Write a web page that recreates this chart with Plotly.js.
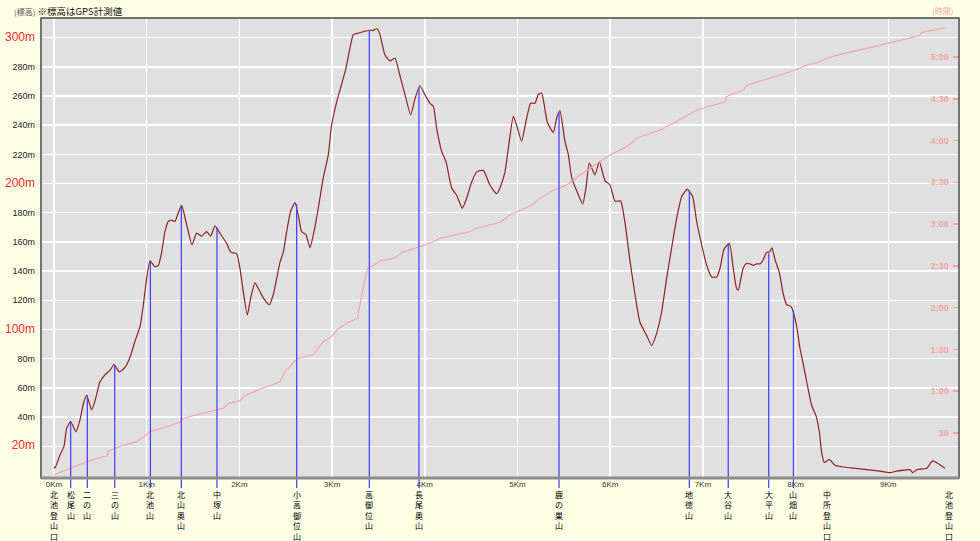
<!DOCTYPE html>
<html>
<head>
<meta charset="utf-8">
<script src="https://cdn.plot.ly/plotly-3.0.1.min.js"></script>
<style>html,body{margin:0;padding:0;background:#FFFFE5;}#chart{width:980px;height:541px;}</style>
</head>
<body>
<div id="chart"></div>
<script>
// ---- Elevation profile (distance km, elevation m) ----
const distKm = [0.00,0.01,0.065,0.108,0.136,0.18,0.237,0.28,0.316,0.353,0.406,0.442,0.496,0.55,0.604,0.647,0.705,0.766,0.82,0.874,0.928,0.964,1.0,1.036,1.09,1.126,1.162,1.197,1.233,1.269,1.305,1.341,1.377,1.431,1.489,1.539,1.593,1.647,1.69,1.737,1.79,1.863,1.906,1.97,2.006,2.042,2.086,2.12,2.168,2.222,2.265,2.323,2.366,2.438,2.474,2.51,2.553,2.6,2.636,2.672,2.718,2.762,2.805,2.851,2.905,2.96,2.995,3.05,3.103,3.15,3.193,3.229,3.283,3.337,3.402,3.44,3.485,3.517,3.571,3.625,3.678,3.732,3.786,3.848,3.894,3.948,4.0,4.056,4.092,4.128,4.182,4.229,4.29,4.344,4.405,4.452,4.506,4.56,4.631,4.703,4.775,4.811,4.865,4.901,4.955,4.99,5.045,5.09,5.142,5.188,5.225,5.26,5.286,5.322,5.387,5.423,5.458,5.512,5.548,5.585,5.645,5.703,5.739,5.775,5.836,5.883,5.944,5.998,6.052,6.113,6.16,6.214,6.268,6.321,6.393,6.447,6.494,6.555,6.609,6.663,6.717,6.771,6.832,6.89,6.933,6.987,7.041,7.095,7.149,7.185,7.228,7.285,7.328,7.364,7.382,7.43,7.465,7.508,7.544,7.58,7.616,7.652,7.688,7.717,7.745,7.778,7.825,7.868,7.904,7.947,7.976,8.012,8.048,8.084,8.127,8.174,8.22,8.256,8.281,8.31,8.364,8.425,8.497,8.623,8.767,8.911,9.018,9.09,9.234,9.263,9.306,9.414,9.479,9.54,9.612];
const elevM = [6,5,14,20,32,37,30,38,49,55,45,51,64,69,72,76,71,74,81,92,102,117,135,147,143,144,153,167,174,175,174,180,185,172,158,166,164,167,164,171,166,159,153,152,142,126,110,121,132,126,121,117,124,146,153,167,181,187,178,167,165,156,167,183,204,220,240,256,268,279,293,302,303,304,305,305,306,302,288,284,286,274,261,247,258,267,261,255,253,238,222,215,197,192,183,190,201,208,209,199,193,197,208,224,246,240,229,242,255,255,261,262,255,242,235,245,250,229,220,204,194,186,197,214,206,215,202,199,188,188,173,147,124,105,96,89,96,112,135,156,176,191,196,191,174,158,144,136,136,142,155,159,142,128,127,141,145,145,144,145,145,148,153,153,156,148,139,124,117,116,112,102,87,76,62,48,41,30,16,9,11,7,6,5,4,3,2,3,4,2,4,5,10,8,5];

// ---- Elapsed time (distance km, minutes) ----
const timeKm = [0,0.175,0.353,0.532,0.575,0.586,0.73,0.892,1.036,1.215,1.359,1.395,1.575,1.827,1.88,2.0,2.06,2.22,2.33,2.438,2.492,2.546,2.618,2.8,2.905,2.995,3.05,3.158,3.273,3.32,3.381,3.445,3.517,3.661,3.769,3.948,4.092,4.164,4.488,4.56,4.811,4.919,5.027,5.153,5.351,5.531,5.675,5.891,5.998,6.178,6.286,6.538,6.681,6.933,7.185,7.238,7.256,7.292,7.436,7.472,7.544,7.688,7.868,8.0,8.12,8.228,8.335,8.479,8.767,9.0,9.198,9.335,9.36,9.45,9.612];
const timeMin = [0,4.7,9.4,13,13.5,17,20.9,23.8,30.9,34.5,37.7,40.6,43.4,47.7,51.3,53,56.8,61.6,64,66.9,74,77.6,83.1,86.5,95.6,99.2,104,108.8,112.4,129.1,148.3,150.2,153.5,155.4,160.2,163.8,167.4,169.8,174.6,177,181.3,186.5,190.1,193.7,203.3,208.1,215.3,225.3,229.6,235.6,241.6,247.6,252.4,261.9,266.8,267.9,271.5,272.7,276.3,279.4,281.1,284.2,288.3,290.7,294.3,295.9,299.1,301.9,306.2,309.8,313.4,315.3,317.7,318.7,321];

// ---- Peaks with marker lines ----
const peakNames = ["松尾山","二の山","三の山","北池山","北山奥山","中塚山","小高御位山","高御位山","長尾奥山","鹿の巣山","地徳山","大谷山","大平山","山畑山"];
const peakKm    = [0.18,0.36,0.655,1.04,1.374,1.758,2.618,3.402,3.937,5.448,6.854,7.274,7.71,7.977];
const peakElev  = [37,55,76,147,185,170,186,305,266,249,195,159,152,113];

// ---- Trailheads (labels only) ----
const trailNames = ["北池登山口","中所登山口","北池登山口"];
const trailKm    = [0,8.34,9.66];

// ---- Axis ticks ----
const kmTicks = [0,1,2,3,4,5,6,7,8,9];
const kmLabels = ["0Km","1Km","2Km","3Km","4Km","5Km","6Km","7Km","8Km","9Km"];
const elevTicks = [20,40,60,80,100,120,140,160,180,200,220,240,260,280,300];
const elevLabels = ["20m","40m","60m","80m","100m","120m","140m","160m","180m","200m","220m","240m","260m","280m","300m"];
const redElev = [20,100,200,300];
const timeTicks = [30,60,90,120,150,180,210,240,270,300];
const timeLabels = ["30","1:00","1:30","2:00","2:30","3:00","3:30","4:00","4:30","5:00"];

const NUMFONT = "Liberation Sans Narrow, Liberation Sans, Arial, sans-serif";
const JPFONT = "Noto Sans CJK JP, sans-serif";
const PINK = "#F3A3A3";

const elevText = elevLabels.map((t,i) => redElev.includes(elevTicks[i])
  ? '<span style="color:#FF2A2A;font-size:12px">' + t + '</span>' : t);

const traces = [
  {x: timeKm, y: timeMin, yaxis: 'y2', type: 'scatter', mode: 'lines',
   line: {color: PINK, width: 1.1}, hoverinfo: 'skip'},
  {x: distKm, y: elevM, type: 'scatter', mode: 'lines',
   line: {color: '#8E2323', width: 1.2, shape: 'spline', smoothing: 0.5}, hoverinfo: 'skip'}
];

const shapes = [];
peakKm.forEach((k,i) => {
  shapes.push({type:'line', xref:'x', yref:'y', x0:k, x1:k, y0:-10, y1:peakElev[i],
               line:{color:'#4848FF', width:1.3}});
  shapes.push({type:'line', xref:'x', yref:'paper', x0:k, x1:k, y0:0, y1:-0.022,
               line:{color:'#4848FF', width:1.3}});
});
// frame
shapes.push({type:'rect', xref:'paper', yref:'paper', x0:0, x1:1, y0:0, y1:1,
             line:{color:'#4A4A4A', width:1.5}, layer:'above'});
shapes.push({type:'line', xref:'paper', yref:'paper', x0:0, x1:1, y0:0, y1:0,
             line:{color:'#8C8C8C', width:3}, layer:'above'});

const annotations = [];
function vertLabel(name, k) {
  annotations.push({x:k, xref:'x', y:0, yref:'paper', yanchor:'top', xanchor:'center',
    yshift: -10, text: Array.from(name).join('<br>'), showarrow:false, borderpad:0,
    font:{family:JPFONT, size:8, color:'#000'}});
}
peakNames.forEach((n,i) => vertLabel(n, peakKm[i]));
trailNames.forEach((n,i) => vertLabel(n, trailKm[i]));

annotations.push({xref:'paper', yref:'paper', x:-0.032, y:1, yshift:7, xanchor:'left', yanchor:'middle',
  text:'<span style="font-size:8px;color:#555">(標高)</span> ※標高はGPS計測値', showarrow:false,
  font:{family:JPFONT, size:9.5, color:'#111'}});
annotations.push({xref:'paper', yref:'paper', x:1, y:1, yshift:8, xshift:-4, xanchor:'right', yanchor:'middle',
  text:'(時間)', showarrow:false, font:{family:JPFONT, size:8, color:PINK}});

const layout = {
  width: 980, height: 541,
  paper_bgcolor: '#FFFFE5', plot_bgcolor: '#E0E0E0',
  margin: {l:41, r:21, t:18, b:63},
  showlegend: false,
  xaxis: {range:[-0.14, 9.763], tickvals: kmTicks, ticktext: kmLabels, showgrid:true,
          gridcolor:'#FFFFFF', gridwidth:1.5, zeroline:false, showline:false, ticks:'',
          tickfont:{family:NUMFONT, size:8, color:'#333'}, fixedrange:true},
  yaxis: {range:[-1.7, 313.4], tickvals: elevTicks, ticktext: elevText, showgrid:true,
          gridcolor:'#FFFFFF', gridwidth:1.5, zeroline:false, showline:false, ticks:'',
          ticklabelstandoff: 5,
          tickfont:{family:NUMFONT, size:9, color:'#222'}, fixedrange:true},
  yaxis2: {range:[-2.3, 328], overlaying:'y', side:'right', tickvals: timeTicks, ticktext: timeLabels,
          showgrid:false, zeroline:false, showline:false, ticks:'inside', ticklen:6, tickwidth:1.5,
          tickcolor: PINK, ticklabelposition:'inside', ticklabelstandoff: 3,
          tickfont:{family:NUMFONT, size:9, color:PINK, weight:'bold'}, fixedrange:true},
  shapes: shapes,
  annotations: annotations
};

Plotly.newPlot('chart', traces, layout, {staticPlot:true, displayModeBar:false});
</script>
</body>
</html>
